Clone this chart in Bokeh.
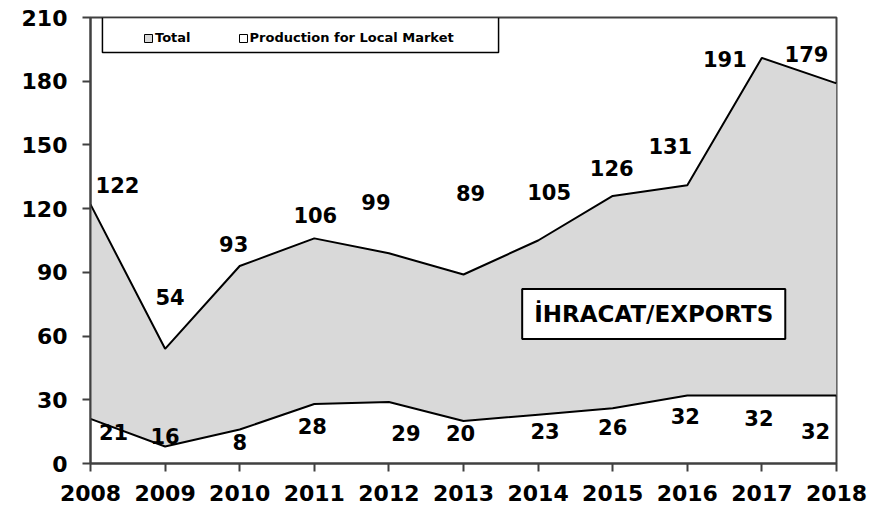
from bokeh.plotting import figure
from bokeh.models import ColumnDataSource, Range1d, FixedTicker, Legend, LegendItem, BoxAnnotation, Label
from bokeh.core.properties import value
from bokeh.embed import file_html
from bokeh.resources import INLINE

years = [2008, 2009, 2010, 2011, 2012, 2013, 2014, 2015, 2016, 2017, 2018]
total = [122, 54, 93, 106, 99, 89, 105, 126, 131, 191, 179]
local = [21, 8, 16, 28, 29, 20, 23, 26, 32, 32, 32]
local_labels = [21, 16, 8, 28, 29, 20, 23, 26, 32, 32, 32]
y_ticks = [0, 30, 60, 90, 120, 150, 180, 210]

# label offsets (screen pixels)
total_dx = [27, 5, -6, 1, -13, 7, 11, -1, -17, -37, -30]
total_dy = [-19, -52, -22, -23, -51, -81, -49, -28, -39, 1, -29]
local_dx = [23, 0, 0, -2, 17, -3, 7, 0, -2, -3, -21]
local_dy = [13, -11, 12, 22, 31, 12, 16, 19, 20, 22, 35]

FONT = "DejaVu Sans"
GRAY = "#D9D9D9"
AXIS = "#404040"
NAN = float("nan")

p = figure(width=887, height=510, output_backend="svg", toolbar_location=None,
           x_range=Range1d(2008, 2018), y_range=Range1d(0, 210),
           min_border_left=90, min_border_right=51, min_border_top=17, min_border_bottom=47)
p.background_fill_color = "white"
p.border_fill_color = "white"
p.outline_line_color = AXIS
p.outline_line_width = 2
p.xgrid.visible = False
p.ygrid.visible = False

p.varea(x=years, y1=local, y2=total, fill_color=GRAY)
p.line(years, total, line_color="black", line_width=2)
p.line(years, local, line_color="black", line_width=2)

src_t = ColumnDataSource(dict(x=years, y=total, t=[str(v) for v in total], dx=total_dx, dy=total_dy))
src_l = ColumnDataSource(dict(x=years, y=local, t=[str(v) for v in local_labels], dx=local_dx, dy=local_dy))
for s in (src_t, src_l):
    p.text(x="x", y="y", text="t", x_offset="dx", y_offset="dy", source=s,
           text_font=value(FONT), text_font_style="bold", text_font_size="21px",
           text_color="black", text_align="center", text_baseline="middle")

# legend box
p.add_layout(BoxAnnotation(left=2008.16, right=2013.47, top=210, bottom=193.5,
                           fill_color="white", fill_alpha=1, line_color="black", line_alpha=1,
                           line_width=1.5, level="underlay"))

r1 = p.quad(left=[NAN], right=[NAN], top=[NAN], bottom=[NAN], fill_color=GRAY, line_color="black", line_width=1)
r2 = p.quad(left=[NAN], right=[NAN], top=[NAN], bottom=[NAN], fill_color="white", line_color="black", line_width=1)
legend = Legend(items=[LegendItem(label="Total", renderers=[r1]),
                       LegendItem(label="Production for Local Market", renderers=[r2])],
                orientation="horizontal", location=(53, 418), padding=0, margin=0, spacing=47,
                glyph_width=10, glyph_height=10, label_standoff=2, label_height=14,
                label_text_font_size="13px", label_text_font_style="bold", label_text_font=FONT,
                label_text_color="black", border_line_alpha=0, background_fill_alpha=0)
p.add_layout(legend)

p.add_layout(Label(x=2015.55, y=70.4, text="İHRACAT/EXPORTS", text_font=FONT,
                   text_font_style="bold", text_font_size="23px", text_color="black",
                   text_align="center", text_baseline="middle", background_fill_color="white",
                   border_line_color="black", border_line_width=2, padding=12))

p.xaxis.ticker = FixedTicker(ticks=years)
p.yaxis.ticker = FixedTicker(ticks=y_ticks)
for ax in (p.xaxis, p.yaxis):
    ax.major_label_text_font = FONT
    ax.major_label_text_font_style = "bold"
    ax.major_label_text_font_size = "22px"
    ax.major_label_text_color = "black"
    ax.axis_line_color = AXIS
    ax.axis_line_width = 2
    ax.major_tick_line_color = AXIS
    ax.major_tick_line_width = 2
    ax.major_tick_out = 8
    ax.major_tick_in = 0
    ax.minor_tick_line_color = None
p.xaxis.major_label_standoff = 13
p.yaxis.major_label_standoff = 15

open("out.html", "w").write(file_html(p, INLINE))
